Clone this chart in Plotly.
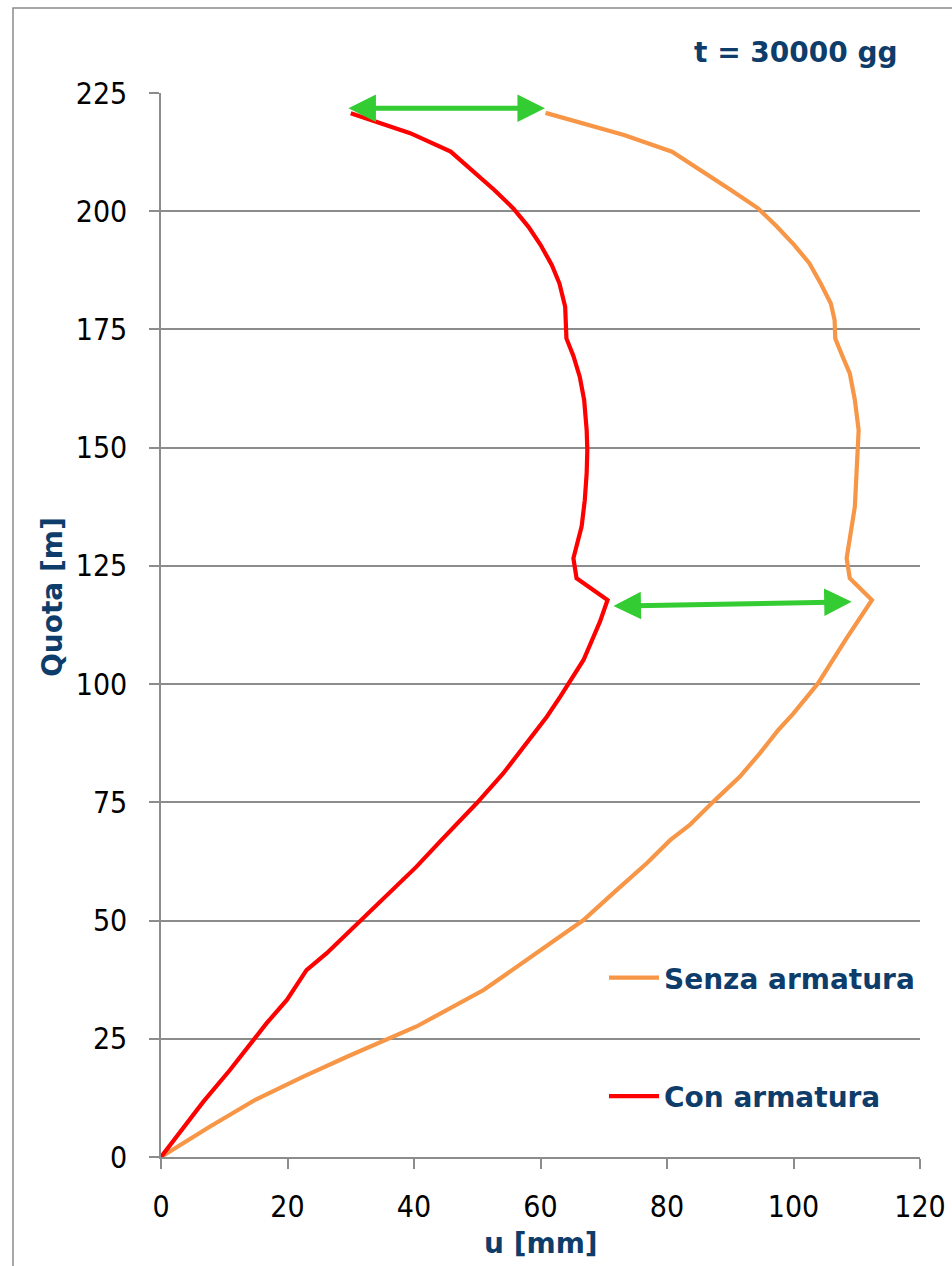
import plotly.graph_objects as go

# --- data ---
quota_con = [0, 11.7, 18.4, 28.3, 33.2, 39.5, 43.1, 50.1, 61.4, 66.7, 74.8, 81.1, 88.2, 93.1,
             97.3, 105.1, 113.2, 117.8, 122.4, 126.6, 133.3, 138.9, 144.6, 149.5, 153.7, 160.1,
             165, 169.4, 173.1, 179.8, 184.7, 188.6, 192.9, 196.7, 200.6, 204.5, 212.6, 216.5, 220.7]
u_con = [0, 6.7, 10.9, 16.7, 19.9, 23.0, 26.2, 31.7, 40.4, 44.1, 49.9, 54.1, 58.3, 61.0,
         63.1, 66.8, 69.4, 70.6, 65.7, 65.2, 66.5, 67.0, 67.3, 67.4, 67.3, 66.9,
         66.2, 65.2, 64.1, 63.9, 63.0, 61.8, 60.0, 58.1, 55.7, 52.7, 45.8, 39.4, 30.0]

quota_senza = [0, 6.4, 12.1, 17, 21.2, 25.3, 27.6, 35.3, 46.6, 50.1, 55.8, 62.1, 67, 70.2, 75.1,
               80.4, 85.4, 90.3, 93.8, 100.2, 109.7, 117.8, 122.4, 126.6, 137.5, 146, 153.7,
               160.1, 165.7, 168.5, 173.1, 177, 180.5, 184.7, 189, 192.9, 196.7, 200.6, 204.5,
               212.6, 216.1, 220.8]
u_senza = [0, 7.7, 14.9, 22.5, 29.4, 36.7, 40.4, 51.0, 63.1, 66.8, 71.5, 76.8, 80.5, 83.6, 87.3,
           91.5, 94.7, 97.6, 100.0, 103.9, 108.4, 112.4, 108.9, 108.4, 109.7, 110.1, 110.3,
           109.7, 108.9, 108.0, 106.6, 106.5, 105.9, 104.3, 102.5, 100.1, 97.4, 94.4, 90.1,
           80.8, 73.2, 60.8]

# double arrows (u start, u end, quota start, quota end)
arrow_u_start = [29.4, 71.3]
arrow_u_end = [60.7, 109.2]
arrow_q_start = [221.8, 116.5]
arrow_q_end = [221.8, 117.4]

y_ticks = [0, 25, 50, 75, 100, 125, 150, 175, 200, 225]
x_ticks = [0, 20, 40, 60, 80, 100, 120]

NAVY = "#0E3D6B"
GRID = "#8C8C8C"
BOLD = "DejaVu Sans, Verdana, sans-serif"
REG = "DejaVu Sans Condensed, Tahoma, DejaVu Sans, sans-serif"

fig = go.Figure()
fig.add_trace(go.Scatter(x=u_senza, y=quota_senza, mode="lines", name="Senza armatura",
                         line=dict(color="#F79646", width=4.2), legendgroup="a"))
fig.add_trace(go.Scatter(x=u_con, y=quota_con, mode="lines", name="Con armatura",
                         line=dict(color="#FF0000", width=4.2), legendgroup="b"))

for xs, xe, ys, ye in zip(arrow_u_start, arrow_u_end, arrow_q_start, arrow_q_end):
    fig.add_annotation(x=xe, y=ye, ax=xs, ay=ys, xref="x", yref="y", axref="x", ayref="y",
                       text="", showarrow=True, arrowside="end+start",
                       arrowhead=2, startarrowhead=2, arrowsize=1.1, startarrowsize=1.1,
                       arrowwidth=5, arrowcolor="#33CC33", standoff=0, startstandoff=0)

L, R, T, B = 161, 32, 93, 109
W, H = 952, 1266
pw, ph = W - L - R, H - T - B

def px_x(p):
    return (p - L) / pw

def px_y(p):
    return (H - B - p) / ph

fig.add_annotation(text="<b>t = 30000 gg</b>", xref="paper", yref="paper",
                   x=px_x(900), y=px_y(52), xanchor="right", yanchor="middle",
                   showarrow=False, font=dict(family=BOLD, size=28, color=NAVY))
fig.add_annotation(text="<b>u [mm]</b>", xref="paper", yref="paper",
                   x=px_x(541), y=px_y(1243), xanchor="center", yanchor="middle",
                   showarrow=False, font=dict(family=BOLD, size=28, color=NAVY))
fig.add_annotation(text="<b>Quota [m]</b>", xref="paper", yref="paper", textangle=-90,
                   x=px_x(52), y=px_y(597), xanchor="center", yanchor="middle",
                   showarrow=False, font=dict(family=BOLD, size=28, color=NAVY))

fig.add_shape(type="rect", xref="paper", yref="paper",
              x0=px_x(13), x1=px_x(1100), y0=px_y(1400), y1=px_y(8),
              line=dict(color="#8C8C8C", width=1.5), fillcolor="rgba(0,0,0,0)", layer="below")

fig.update_layout(
    width=W, height=H,
    margin=dict(l=L, r=R, t=T, b=B, autoexpand=False),
    paper_bgcolor="white", plot_bgcolor="white",
    showlegend=True,
    legend=dict(x=px_x(604), y=px_y(953), xanchor="left", yanchor="top",
                font=dict(family=BOLD, size=28, color=NAVY, weight="bold"),
                tracegroupgap=79, itemwidth=50, bgcolor="rgba(0,0,0,0)",
                traceorder="grouped"),
    xaxis=dict(range=[0, 120], tickvals=x_ticks, showgrid=False, zeroline=False,
               showline=True, linecolor=GRID, linewidth=1.5, automargin=False,
               ticks="outside", ticklen=10, tickcolor=GRID, tickwidth=1.5,
               tickfont=dict(family=REG, size=30, color="black"), ticklabelstandoff=12),
    yaxis=dict(range=[0, 225], tickvals=y_ticks, showgrid=True, gridcolor=GRID, gridwidth=1.5,
               zeroline=False, showline=True, linecolor=GRID, linewidth=1.5, automargin=False,
               ticks="outside", ticklen=10, tickcolor=GRID, tickwidth=1.5,
               tickfont=dict(family=REG, size=30, color="black"), ticklabelstandoff=16),
)

fig.write_html("out.html")
